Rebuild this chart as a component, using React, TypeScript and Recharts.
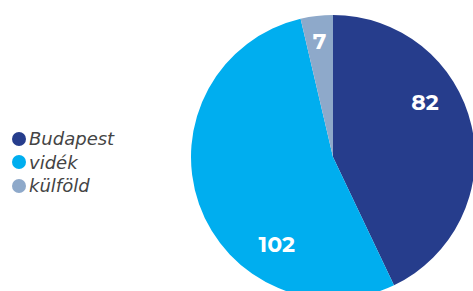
import { PieChart, Pie, Cell, Legend } from "recharts"

const categories = ["Budapest", "vidék", "külföld"]
const values = [82, 102, 7]
const colors = ["#263d8c", "#00aeef", "#8ea9ca"]

const data = categories.map((name, i) => ({ name, value: values[i] }))

const RADIAN = Math.PI / 180
// nudges so the numbers sit where the original put them
const labelShift = [18, 38, 0]
const labelRadius = [107, 104, 116]

const renderLabel = ({ cx, cy, midAngle, index, value }: any) => {
  const a = (midAngle + labelShift[index]) * RADIAN
  const r = labelRadius[index]
  const x = cx + r * Math.cos(a)
  const y = cy - r * Math.sin(a)
  return (
    <text
      x={x}
      y={y}
      fill="#ffffff"
      textAnchor="middle"
      dominantBaseline="central"
      fontFamily="Montserrat, 'Open Sans', sans-serif"
      fontWeight={700}
      fontSize={22}
    >
      {value}
    </text>
  )
}

const LegendContent = () => (
  <div style={{ fontFamily: "'DejaVu Sans', sans-serif", fontStyle: "italic", fontWeight: 200, fontSize: 18, color: "#444" }}>
    {categories.map((c, i) => (
      <div key={c} style={{ display: "flex", alignItems: "center", height: 23.5 }}>
        <span
          style={{
            display: "inline-block",
            width: 14,
            height: 14,
            borderRadius: "50%",
            background: colors[i],
            marginRight: 3,
          }}
        />
        <span>{c}</span>
      </div>
    ))}
  </div>
)

export default function App() {
  return (
    <div style={{ position: "absolute", left: 0, top: 0, width: 473, height: 291, background: "#fff" }}>
      <PieChart width={473} height={291} margin={{ top: 0, right: 0, bottom: 0, left: 0 }}>
        <Pie
          data={data}
          dataKey="value"
          nameKey="name"
          cx={333}
          cy={157}
          outerRadius={142}
          startAngle={90}
          endAngle={-270}
          stroke="none"
          label={renderLabel}
          labelLine={false}
          isAnimationActive={false}
        >
          {data.map((entry, index) => (
            <Cell key={`cell-${index}`} fill={colors[index]} />
          ))}
        </Pie>
        <Legend
          content={<LegendContent />}
          wrapperStyle={{ left: 12, top: 127, width: 150, bottom: "auto" }}
        />
      </PieChart>
    </div>
  )
}
